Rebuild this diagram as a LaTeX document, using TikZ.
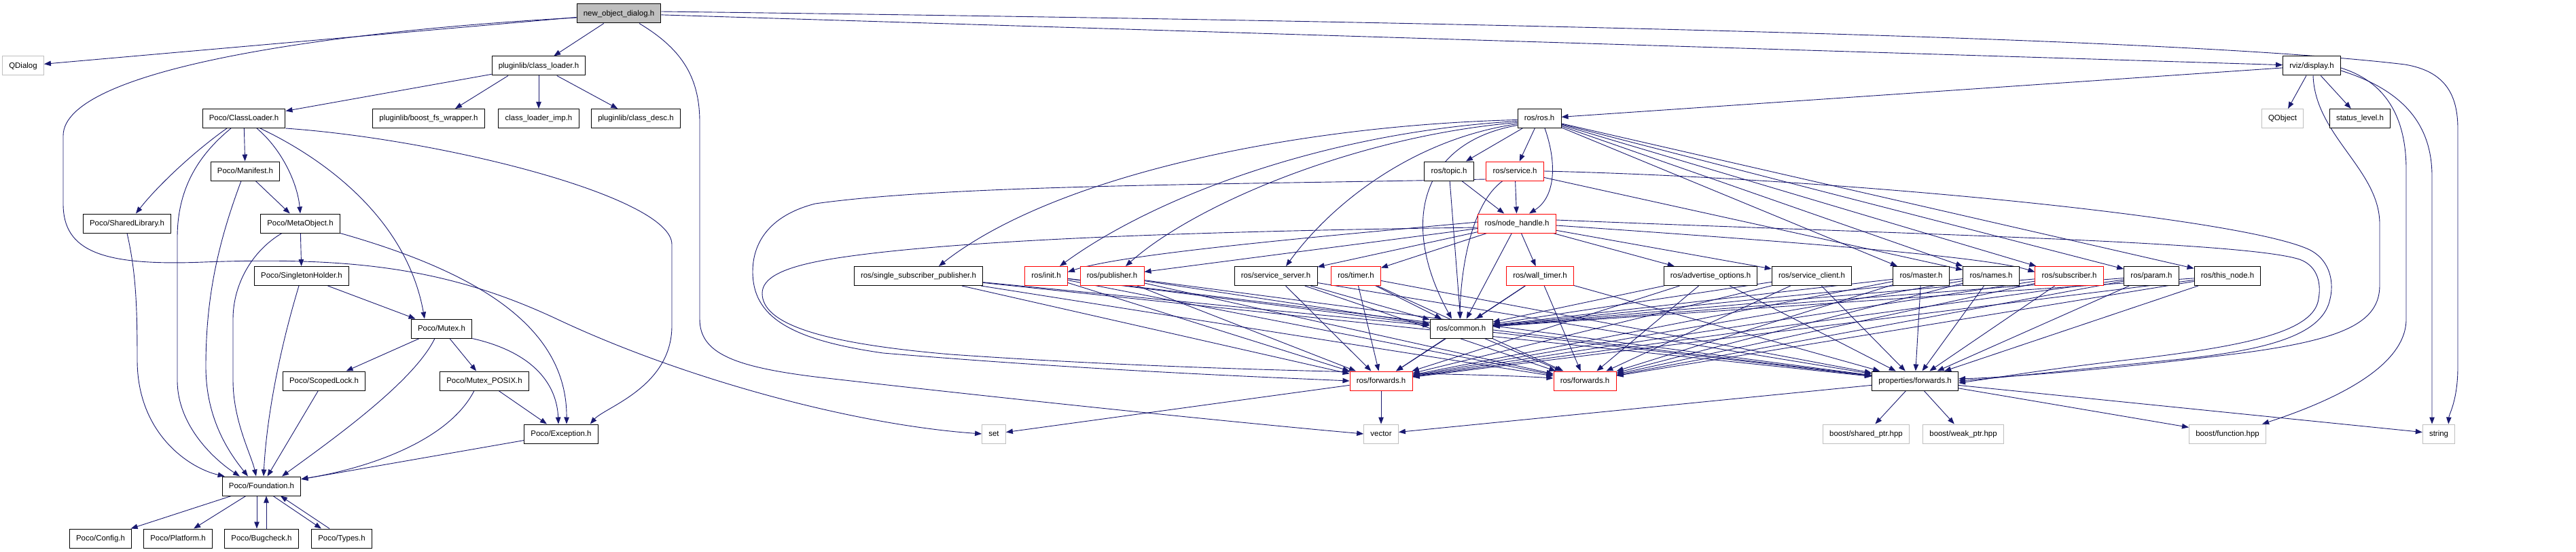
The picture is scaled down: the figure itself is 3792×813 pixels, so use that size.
\documentclass[tikz,border=0pt]{standalone}
\usepackage{fontspec}
\setmainfont{Liberation Sans}
\usetikzlibrary{arrows.meta,backgrounds}

\definecolor{depblue}{HTML}{191970}
\definecolor{sysgray}{HTML}{BFBFBF}

\tikzset{
  hdr/.style={draw=black, fill=white, line width=1pt, minimum height=28pt,
    inner xsep=9.75pt, inner ysep=0pt, text height=8.6pt, text depth=2.4pt,
    font=\fontsize{11.45}{13}\selectfont},
  redbox/.style={hdr, draw=red},
  sysbox/.style={hdr, draw=sysgray},
  mainbox/.style={hdr, fill=sysgray},
  dep/.style={draw=depblue, line width=0.9pt, -{Triangle[length=10pt,width=7.5pt]}},
}

\begin{document}
\begin{tikzpicture}[x=1pt, y=-1pt]
\useasboundingbox (0,0) rectangle (3792,813);

% top of the graph
\node[mainbox] (nod) at (911,20) {new\_object\_dialog.h};
\node[sysbox] (qdialog) at (34,97) {QDialog};
\node[hdr] (plcl) at (793,97) {pluginlib/class\_loader.h};
\node[hdr] (rviz) at (3403,97) {rviz/display.h};

% pluginlib and Poco
\node[hdr] (pococl) at (359,174.5) {Poco/ClassLoader.h};
\node[hdr] (bfs) at (631,174.5) {pluginlib/boost\_fs\_wrapper.h};
\node[hdr] (cli) at (793,174.5) {class\_loader\_imp.h};
\node[hdr] (cdesc) at (936,174.5) {pluginlib/class\_desc.h};
\node[hdr] (manifest) at (361,252) {Poco/Manifest.h};
\node[hdr] (sharedlib) at (187,329) {Poco/SharedLibrary.h};
\node[hdr] (metaobj) at (442,329) {Poco/MetaObject.h};
\node[hdr] (singleton) at (444,406.5) {Poco/SingletonHolder.h};
\node[hdr] (mutex) at (650,484) {Poco/Mutex.h};
\node[hdr] (scopedlock) at (477,561) {Poco/ScopedLock.h};
\node[hdr] (mutexposix) at (713,561) {Poco/Mutex\_POSIX.h};
\node[hdr] (exception) at (826,639) {Poco/Exception.h};
\node[hdr] (foundation) at (385,716) {Poco/Foundation.h};
\node[hdr] (config) at (148,793) {Poco/Config.h};
\node[hdr] (platform) at (262,793) {Poco/Platform.h};
\node[hdr] (bugcheck) at (385,793) {Poco/Bugcheck.h};
\node[hdr] (types) at (503,793) {Poco/Types.h};

% ros and rviz
\node[hdr] (rosros) at (2266,174.5) {ros/ros.h};
\node[sysbox] (qobject) at (3360,174.5) {QObject};
\node[hdr] (statuslvl) at (3474,174.5) {status\_level.h};
\node[hdr] (topic) at (2133,252) {ros/topic.h};
\node[redbox] (service) at (2230,252) {ros/service.h};
\node[redbox] (nodehandle) at (2233,329) {ros/node\_handle.h};
\node[hdr] (ssp) at (1352,406.5) {ros/single\_subscriber\_publisher.h};
\node[redbox] (init) at (1540,406.5) {ros/init.h};
\node[redbox] (publisher) at (1637,406.5) {ros/publisher.h};
\node[hdr] (srvserver) at (1878,406.5) {ros/service\_server.h};
\node[redbox] (timer) at (1996,406.5) {ros/timer.h};
\node[redbox] (walltimer) at (2267,406.5) {ros/wall\_timer.h};
\node[hdr] (advopts) at (2518,406.5) {ros/advertise\_options.h};
\node[hdr] (srvclient) at (2667,406.5) {ros/service\_client.h};
\node[hdr] (master) at (2828,406.5) {ros/master.h};
\node[hdr] (names) at (2931,406.5) {ros/names.h};
\node[redbox] (subscriber) at (3046,406.5) {ros/subscriber.h};
\node[hdr] (param) at (3167,406.5) {ros/param.h};
\node[hdr] (thisnode) at (3279,406.5) {ros/this\_node.h};
\node[hdr] (common) at (2151,484) {ros/common.h};
\node[redbox] (fwdA) at (2033,561) {ros/forwards.h};
\node[redbox] (fwdB) at (2333,561) {ros/forwards.h};
\node[hdr] (props) at (2819,561) {properties/forwards.h};

% system headers
\node[sysbox] (set) at (1463,639) {set};
\node[sysbox] (vector) at (2033,639) {vector};
\node[sysbox] (sharedptr) at (2747,639) {boost/shared\_ptr.hpp};
\node[sysbox] (weakptr) at (2890,639) {boost/weak\_ptr.hpp};
\node[sysbox] (function) at (3279,639) {boost/function.hpp};
\node[sysbox] (string) at (3590,639) {string};

\begin{scope}[on background layer]
\fill[white] (0,0) rectangle (3792,813);

% from the dialog header
\draw[dep] (nod) -- (qdialog);
\draw[dep] (nod) -- (plcl);
\draw[dep] (nod) -- (rviz);
\draw[dep] ([yshift=3pt]nod.east) .. controls (2400,35) and (3250,60) .. (3540,95) .. controls (3600,105) and (3618,140) .. (3618,190) -- (3618,540) .. controls (3618,590) and (3605,610) .. ([xshift=-10pt]string.north east);
\draw[dep] ([yshift=-6pt]nod.west) .. controls (500,45) and (93,100) .. (93,200) -- (93,300) .. controls (93,370) and (150,392) .. (300,386) .. controls (520,378) and (660,395) .. (820,470) .. controls (1000,555) and (1250,625) .. (set.west);
\draw[dep] ([xshift=30pt]nod.south) .. controls (1000,70) and (1030,110) .. (1030,180) -- (1030,470) .. controls (1030,520) and (1080,540) .. (1200,555) .. controls (1550,595) and (1850,625) .. (vector.west);

% pluginlib
\draw[dep] (plcl) -- (pococl);
\draw[dep] ([xshift=-45pt]plcl.south) -- ([xshift=39pt]bfs.north);
\draw[dep] (plcl) -- (cli);
\draw[dep] (plcl) -- (cdesc);

% Poco
\draw[dep] ([xshift=-25pt]pococl.south) .. controls (290,220) and (235,270) .. ([xshift=13pt]sharedlib.north);
\draw[dep] (pococl) -- (manifest);
\draw[dep] ([xshift=19pt]pococl.south) .. controls (415,220) and (438,270) .. (metaobj.north);
\draw[dep] ([xshift=24pt]pococl.south) .. controls (490,240) and (600,330) .. ([xshift=-25pt]mutex.north);
\draw[dep] (pococl.south east) .. controls (650,205) and (989,290) .. (989,360) -- (989,480) .. controls (989,570) and (890,600) .. ([xshift=-12pt]exception.north east);
\draw[dep] ([xshift=-19pt]pococl.south) .. controls (290,230) and (261,280) .. (261,350) -- (261,560) .. controls (261,630) and (320,680) .. ([xshift=-32pt]foundation.north);
\draw[dep] (manifest) -- (metaobj);
\draw[dep] ([xshift=-6pt]manifest.south) .. controls (320,360) and (303,440) .. (303,540) .. controls (303,620) and (340,670) .. ([xshift=-20pt]foundation.north);
\draw[dep] (sharedlib.south) .. controls (200,400) and (202,450) .. (202,530) .. controls (202,640) and (280,690) .. ([xshift=4pt]foundation.north west);
\draw[dep] (metaobj) -- (singleton);
\draw[dep] (metaobj.south east) .. controls (700,400) and (835,480) .. ([xshift=8pt]exception.north);
\draw[dep] ([xshift=-27pt]metaobj.south) .. controls (370,370) and (343,420) .. (343,470) -- (343,560) .. controls (343,620) and (370,670) .. ([xshift=-8pt]foundation.north);
\draw[dep] (singleton) -- (mutex);
\draw[dep] ([xshift=-4pt]singleton.south) .. controls (410,520) and (392,620) .. ([xshift=3pt]foundation.north);
\draw[dep] (mutex) -- (scopedlock);
\draw[dep] (mutex) -- (mutexposix);
\draw[dep] (mutex.south east) .. controls (790,520) and (820,570) .. ([xshift=-4pt]exception.north);
\draw[dep] ([xshift=-10pt]mutex.south) .. controls (610,560) and (500,640) .. ([xshift=30pt]foundation.north);
\draw[dep] (scopedlock) -- (foundation);
\draw[dep] (mutexposix) -- (exception);
\draw[dep] ([xshift=-15pt]mutexposix.south) .. controls (660,650) and (540,690) .. ([yshift=-4pt]foundation.north east);
\draw[dep] (exception) -- (foundation);
\draw[dep] (foundation) -- (config);
\draw[dep] (foundation) -- (platform);
\draw[dep] ([xshift=-7pt]foundation.south) -- ([xshift=-7pt]bugcheck.north);
\draw[dep] ([xshift=7pt]bugcheck.north) -- ([xshift=7pt]foundation.south);
\draw[dep] ([xshift=17pt]foundation.south) -- ([xshift=-30pt]types.north);
\draw[dep] ([xshift=-18pt]types.north) -- ([xshift=28pt]foundation.south);

% rviz/display.h
\draw[dep] (rviz) -- (rosros);
\draw[dep] (rviz) -- (qobject);
\draw[dep] (rviz) -- (statuslvl);
\draw[dep] ([xshift=2pt]rviz.south) .. controls (3408,200) and (3503,250) .. (3503,330) -- (3503,420) .. controls (3503,475) and (3450,500) .. (3300,520) .. controls (3100,545) and (2950,556) .. ([yshift=3pt]props.east);
\draw[dep] ([yshift=-3pt]rviz.east) .. controls (3510,120) and (3542,170) .. (3542,250) -- (3542,470) .. controls (3542,545) and (3420,595) .. ([xshift=-6pt]function.north east);
\draw[dep] ([yshift=-7pt]rviz.east) .. controls (3545,135) and (3580,190) .. (3580,260) -- ([xshift=-10pt]string.north);

% ros/ros.h
\draw[dep] ([yshift=-2pt]rosros.west) .. controls (1900,185) and (1550,260) .. ([xshift=30pt]ssp.north);
\draw[dep] ([yshift=-4pt]rosros.west) .. controls (1950,195) and (1700,290) .. ([xshift=20pt]init.north);
\draw[dep] ([yshift=-6pt]rosros.west) .. controls (2000,200) and (1760,300) .. ([xshift=20pt]publisher.north);
\draw[dep] ([yshift=-8pt]rosros.west) .. controls (2080,205) and (1960,300) .. ([xshift=15pt]srvserver.north);
\draw[dep] ([yshift=-10pt]rosros.west) .. controls (2090,210) and (2060,330) .. ([xshift=-14pt]common.north);
\draw[dep] (rosros) -- (topic);
\draw[dep] (rosros) -- (service);
\draw[dep] ([xshift=8pt]rosros.south) .. controls (2292,240) and (2290,290) .. ([xshift=18pt]nodehandle.north);
\draw[dep] (rosros) -- (master);
\draw[dep] (rosros) -- (names);
\draw[dep] (rosros) -- (subscriber);
\draw[dep] (rosros) -- (param);
\draw[dep] (rosros) -- (thisnode);

% topic, service, node_handle
\draw[dep] (topic) -- (nodehandle);
\draw[dep] (topic) -- (common);
\draw[dep] (service) -- (nodehandle);
\draw[dep] ([xshift=-18pt]service.south) .. controls (2165,300) and (2150,400) .. ([xshift=-2pt]common.north);
\draw[dep] (service) -- (names);
\draw[dep] ([yshift=-12pt]service.west) .. controls (1800,272) and (1400,272) .. (1200,300) .. controls (1130,318) and (1108,360) .. (1108,400) .. controls (1108,465) and (1160,500) .. (1300,520) .. controls (1600,545) and (1850,555) .. (fwdA.west);
\draw[dep] (service.east) .. controls (2700,262) and (3300,320) .. (3400,368) .. controls (3433,385) and (3435,420) .. (3430,440) .. controls (3420,490) and (3350,515) .. (3200,530) .. controls (3050,545) and (2950,556) .. (props.east);
\draw[dep] ([yshift=2pt]nodehandle.west) .. controls (1900,352) and (1650,375) .. ([yshift=6pt]init.east);
\draw[dep] (nodehandle) -- (publisher);
\draw[dep] (nodehandle) -- (srvserver);
\draw[dep] (nodehandle) -- (timer);
\draw[dep] (nodehandle) -- (walltimer);
\draw[dep] (nodehandle) -- (advopts);
\draw[dep] (nodehandle) -- (srvclient);
\draw[dep] ([yshift=-3pt]nodehandle.east) .. controls (2700,360) and (2930,380) .. ([yshift=6pt]subscriber.west);
\draw[dep] (nodehandle) -- (common);
\draw[dep] ([yshift=-6pt]nodehandle.west) .. controls (1800,340) and (1400,352) .. (1220,382) .. controls (1150,394) and (1122,410) .. (1122,432) .. controls (1122,475) and (1200,505) .. (1400,522) .. controls (1800,550) and (2150,548) .. ([yshift=4pt]fwdB.west);
\draw[dep] ([yshift=5pt]nodehandle.east) .. controls (2800,345) and (3300,355) .. (3385,382) .. controls (3413,392) and (3418,420) .. (3412,445) .. controls (3400,490) and (3300,510) .. (3150,528) .. controls (3000,545) and (2950,555) .. ([yshift=-3pt]props.east);

% the row of ros headers
\path (ssp) edge[dep] (common) edge[dep] (fwdA) edge[dep] (fwdB) edge[dep] (props);
\path (init) edge[dep] (common) edge[dep] (fwdA) edge[dep] (fwdB) edge[dep] (props);
\path (publisher) edge[dep] (common) edge[dep] (fwdA) edge[dep] (fwdB) edge[dep] (props);
\path (srvserver) edge[dep] (common) edge[dep] (fwdA) edge[dep] (fwdB) edge[dep] (props);
\path (timer) edge[dep] (common) edge[dep] (fwdA) edge[dep] (fwdB) edge[dep] (props);
\path (walltimer) edge[dep] (common) edge[dep] (fwdA) edge[dep] (fwdB) edge[dep] (props);
\path (advopts) edge[dep] (common) edge[dep] (fwdA) edge[dep] (fwdB) edge[dep] (props);
\path (srvclient) edge[dep] (common) edge[dep] (fwdA) edge[dep] (fwdB) edge[dep] (props);
\path (master) edge[dep] (common) edge[dep] (fwdA) edge[dep] (fwdB) edge[dep] (props);
\path (names) edge[dep] (common) edge[dep] (fwdA) edge[dep] (fwdB) edge[dep] (props);
\path (subscriber) edge[dep] (common) edge[dep] (fwdA) edge[dep] (fwdB) edge[dep] (props);
\path (param) edge[dep] (common) edge[dep] (fwdA) edge[dep] (fwdB) edge[dep] (props);
\path (thisnode) edge[dep] (common) edge[dep] (fwdA) edge[dep] (fwdB) edge[dep] (props);

% forwards headers
\draw[dep] (common) -- (fwdA);
\draw[dep] (common) -- (fwdB);
\draw[dep] (common) -- (props);
\draw[dep] (fwdA) -- (set);
\draw[dep] (fwdA) -- (vector);
\draw[dep] (props) -- (vector);
\draw[dep] (props) -- (sharedptr);
\draw[dep] (props) -- (weakptr);
\draw[dep] (props) -- (function);
\draw[dep] (props) -- (string);
\end{scope}
\end{tikzpicture}
\end{document}
